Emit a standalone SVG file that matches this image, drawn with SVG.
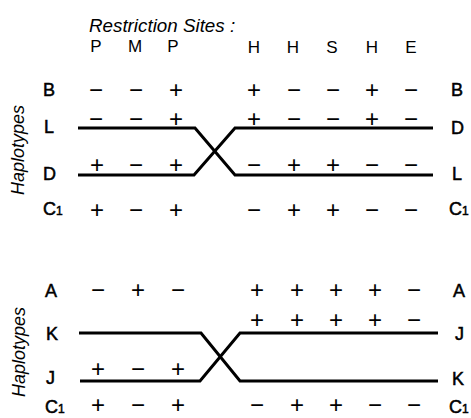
<svg xmlns="http://www.w3.org/2000/svg" width="471" height="418" viewBox="0 0 471 418">
<style>
text{font-family:"Liberation Sans",Arial,Helvetica,sans-serif;fill:#000}
.t{font-size:18.8px;font-style:italic}
.h{font-size:17px;text-anchor:middle}
.lab{font-size:18px;stroke:#000;stroke-width:0.5}
.sub{font-size:12px}
.s{font-size:24px;text-anchor:middle}
.hap{font-size:18px;font-style:italic;text-anchor:middle}
.ln{fill:none;stroke:#000;stroke-width:3;stroke-linejoin:miter}
</style>
<rect width="471" height="418" fill="#fff"/>
<g id="header">
<text class="t" x="89" y="32">Restriction Sites :</text>
<text class="h" x="96" y="52">P</text>
<text class="h" x="135" y="52">M</text>
<text class="h" x="173" y="52">P</text>
<text class="h" x="254" y="53">H</text>
<text class="h" x="293" y="53">H</text>
<text class="h" x="332" y="53">S</text>
<text class="h" x="372" y="53">H</text>
<text class="h" x="411" y="53">E</text>
</g>
<g id="top-panel">
<text class="hap" transform="translate(24,150) rotate(-90)">Haplotypes</text>
<g id="row-B">
<text class="lab" x="43" y="96">B</text>
<text class="s" x="96" y="97.5">−</text><text class="s" x="136" y="97.5">−</text><text class="s" x="176" y="97.5">+</text>
<text class="s" x="254" y="97.5">+</text><text class="s" x="294" y="97.5">−</text><text class="s" x="333" y="97.5">−</text><text class="s" x="372" y="97.5">+</text><text class="s" x="411" y="97.5">−</text>
<text class="lab" x="451" y="96">B</text>
</g>
<g id="row-L-D">
<text class="lab" x="44" y="133">L</text>
<text class="s" x="96" y="126.5">−</text><text class="s" x="136" y="126.5">−</text><text class="s" x="176" y="126.5">+</text>
<text class="s" x="254" y="126.5">+</text><text class="s" x="294" y="126.5">−</text><text class="s" x="333" y="126.5">−</text><text class="s" x="372" y="126.5">+</text><text class="s" x="411" y="126.5">−</text>
<text class="lab" x="451" y="134">D</text>
</g>
<g id="row-D-L">
<text class="lab" x="43" y="180">D</text>
<text class="s" x="97" y="172.5">+</text><text class="s" x="136" y="172.5">−</text><text class="s" x="176" y="172.5">+</text>
<text class="s" x="254" y="172.5">−</text><text class="s" x="294" y="172.5">+</text><text class="s" x="333" y="172.5">+</text><text class="s" x="372" y="172.5">−</text><text class="s" x="411" y="172.5">−</text>
<text class="lab" x="452" y="180">L</text>
</g>
<g id="row-C1-top">
<text class="lab" x="43" y="215">C<tspan class="sub">1</tspan></text>
<text class="s" x="97" y="217.5">+</text><text class="s" x="136" y="217.5">−</text><text class="s" x="176" y="217.5">+</text>
<text class="s" x="254" y="217.5">−</text><text class="s" x="294" y="217.5">+</text><text class="s" x="333" y="217.5">+</text><text class="s" x="372" y="217.5">−</text><text class="s" x="411" y="217.5">−</text>
<text class="lab" x="449" y="215">C<tspan class="sub">1</tspan></text>
</g>
</g>
<g id="bottom-panel">
<text class="hap" transform="translate(25,352) rotate(-90)">Haplotypes</text>
<g id="row-A">
<text class="lab" x="45" y="297">A</text>
<text class="s" x="98" y="297.5">−</text><text class="s" x="138" y="297.5">+</text><text class="s" x="178" y="297.5">−</text>
<text class="s" x="257" y="297.5">+</text><text class="s" x="297" y="297.5">+</text><text class="s" x="336" y="297.5">+</text><text class="s" x="375" y="297.5">+</text><text class="s" x="414" y="297.5">−</text>
<text class="lab" x="453" y="297">A</text>
</g>
<g id="row-K-J">
<text class="lab" x="46" y="340">K</text>
<text class="s" x="257" y="327.5">+</text><text class="s" x="297" y="327.5">+</text><text class="s" x="336" y="327.5">+</text><text class="s" x="375" y="327.5">+</text><text class="s" x="414" y="327.5">−</text>
<text class="lab" x="455" y="340">J</text>
</g>
<g id="row-J-K">
<text class="lab" x="46" y="384">J</text>
<text class="s" x="98" y="377">+</text><text class="s" x="138" y="377">−</text><text class="s" x="178" y="377">+</text>
<text class="lab" x="452" y="385">K</text>
</g>
<g id="row-C1-bottom">
<text class="lab" x="45" y="413">C<tspan class="sub">1</tspan></text>
<text class="s" x="98" y="413">+</text><text class="s" x="138" y="413">−</text><text class="s" x="178" y="413">+</text>
<text class="s" x="257" y="413">−</text><text class="s" x="297" y="413">+</text><text class="s" x="336" y="413">+</text><text class="s" x="375" y="413">−</text><text class="s" x="414" y="413">−</text>
<text class="lab" x="449" y="413">C<tspan class="sub">1</tspan></text>
</g>
</g>
<g id="connectors">
<path class="ln" d="M78,128 H195 L235,175 H433"/>
<path class="ln" d="M78,175 H194 L235,128 H433"/>
<path class="ln" d="M79,333 H201 L240,381 H438"/>
<path class="ln" d="M80,381 H200 L240,333 H438"/>
</g>
</svg>
